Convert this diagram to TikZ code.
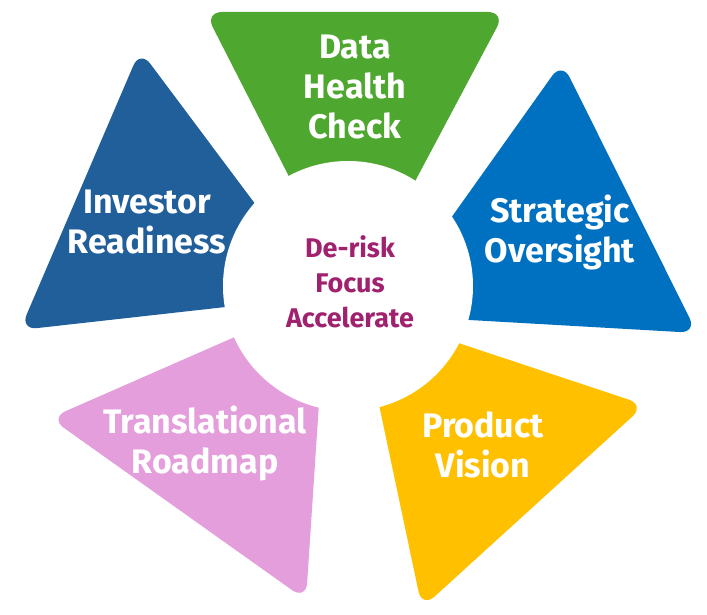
\documentclass[tikz,border=0pt]{standalone}
\usepackage{fontspec}
\setmainfont{Fira Sans}[UprightFont=* Bold]
\definecolor{cgreen}{HTML}{4EA72E}
\definecolor{cdblue}{HTML}{215F9A}
\definecolor{cblue}{HTML}{0070C0}
\definecolor{cyellow}{HTML}{FFC000}
\definecolor{cpink}{HTML}{E49EDC}
\definecolor{cmag}{HTML}{A0226E}
\begin{document}
\begin{tikzpicture}[x=1pt,y=-1pt,
  piece/.style={rounded corners=17pt},
  lbl/.style={text=white,align=center,font=\fontsize{34}{40}\selectfont,inner sep=0pt},
  ctr/.style={text=cmag,align=center,font=\fontsize{27}{35}\selectfont,inner sep=0pt}]
\useasboundingbox (0,0) rectangle (707,615);
% pieces
\fill[cgreen,piece] (352,300) -- (205,12) -- (505,12) -- cycle;
\fill[cdblue,piece] (324,296) -- (140,50) -- (20,330) -- cycle;
\fill[cblue,piece] (382,315) -- (562,62) -- (697,333) -- cycle;
\fill[cyellow,piece] (359,310) -- (645,405) -- (422,608) -- cycle;
\fill[cpink,piece] (326,297) -- (306,600) -- (50,418) -- cycle;
% centre circle
\node[circle,fill=white,minimum size=250pt,inner sep=0pt] (hub) at (348,286) {};
% labels
\node[lbl] (dhc) at (355,87) {Data\\Health\\Check};
\node[lbl] (ir) at (147,222) {Investor\\Readiness};
\node[lbl] (so) at (560,232) {Strategic\\Oversight};
\node[lbl] (pv) at (483,445) {Product\\Vision};
\node[lbl] (tr) at (205,443) {Translational\\Roadmap};
\node[ctr] (dfa) at (350,282) {De-risk\\Focus\\Accelerate};
\end{tikzpicture}
\end{document}
